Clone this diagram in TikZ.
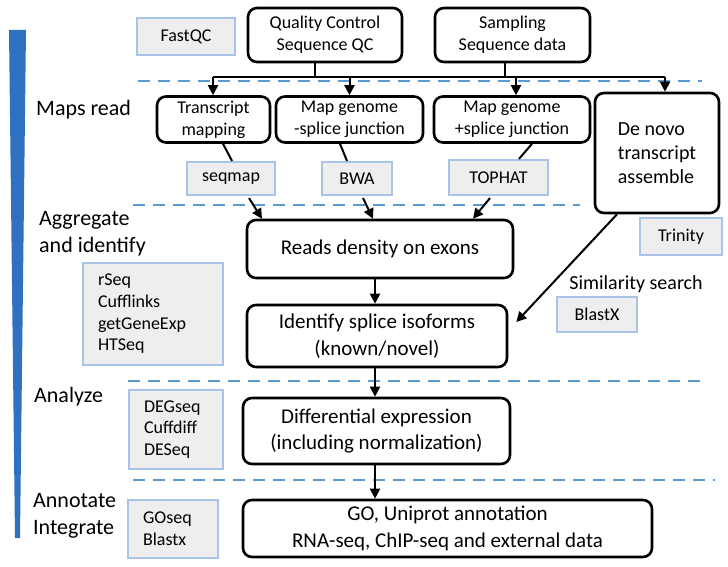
\documentclass[tikz,border=0pt]{standalone}
\usepackage{fontspec}
\setmainfont{Carlito}
\usetikzlibrary{arrows.meta,calc}
\definecolor{boxblue}{HTML}{A9C4E8}
\definecolor{toolfill}{HTML}{EEEEEE}
\definecolor{dashblue}{HTML}{5B9BD5}
\definecolor{barblue}{HTML}{3070C0}
\begin{document}
\begin{tikzpicture}[x=1pt,y=-1pt,
  stagebox/.style={draw=black, line width=2.6pt, rounded corners=9pt, fill=white, align=center, inner sep=0pt, font=\fontsize{18}{22}\selectfont},
  bigtext/.style={font=\fontsize{21}{26.5}\selectfont},
  toolbox/.style={draw=boxblue, line width=2.2pt, fill=toolfill, inner sep=0pt, font=\fontsize{18}{21.7}\selectfont},
  lbl/.style={font=\fontsize{22}{27}\selectfont, align=left, inner sep=0pt},
  sepline/.style={draw=dashblue, line width=2.4pt, dash pattern=on 12pt off 8pt},
  arr/.style={line width=2pt, -{Triangle[length=10pt,width=10pt]}},
  link/.style={line width=2pt}]
\useasboundingbox (0,0) rectangle (728,567);
\fill[white] (0,0) rectangle (728,567);

% tapered bar
\fill[barblue] (9,30) -- (26,30) -- (20,538) -- (15,538) -- cycle;

% dashed separators
\draw[sepline] (138,81) -- (702,81);
\draw[sepline] (133,205) -- (580,205);
\draw[sepline] (128,381) -- (702,381);
\draw[sepline] (133,480) -- (715,480);

% stage labels
\node[lbl, anchor=west] (maps) at (36,110) {Maps read};
\node[lbl, anchor=west] (aggr) at (39,233.5) {Aggregate\\and identify};
\node[lbl, anchor=west] (anal) at (34,397) {Analyze};
\node[lbl, anchor=west] (anno) at (33,515.5) {Annotate\\Integrate};

% top row
\node[stagebox, minimum width=154, minimum height=54] (qc) at (325,35) {Quality Control\\Sequence QC};
\node[stagebox, minimum width=155, minimum height=54] (samp) at (512.5,35) {Sampling\\Sequence data};
\node[toolbox, minimum width=98, minimum height=37] (fastqc) at (186,36.5) {FastQC};

% second row
\node[stagebox, minimum width=113, minimum height=46] (tm) at (213.5,119.5) {Transcript\\mapping};
\node[stagebox, minimum width=147, minimum height=46] (mgm) at (349.5,119.5) {Map genome\\-splice junction};
\node[stagebox, minimum width=156, minimum height=46] (mgp) at (512,119.5) {Map genome\\+splice junction};
\node[stagebox, minimum width=124, minimum height=120, align=left, font=\fontsize{20}{24}\selectfont] (denovo) at (657,153) {De novo\\transcript\\assemble};

\node[toolbox, minimum width=88, minimum height=33] (seqmap) at (231,178.5) {seqmap};
\node[toolbox, minimum width=70, minimum height=33] (bwa) at (357,178.5) {BWA};
\node[toolbox, minimum width=99, minimum height=35] (tophat) at (498.5,177.5) {TOPHAT};

% middle
\node[stagebox, bigtext, minimum width=266, minimum height=58] (reads) at (380,249) {Reads density on exons};
\node[stagebox, bigtext, minimum width=260, minimum height=62] (ident) at (377,336) {Identify splice isoforms\\(known/novel)};
\node[toolbox, minimum width=82, minimum height=37] (trinity) at (681,236.5) {Trinity};
\node[inner sep=0pt, font=\fontsize{20}{24}\selectfont] (sim) at (636,284) {Similarity search};
\node[toolbox, minimum width=80, minimum height=35] (blastx) at (597,314.5) {BlastX};
\node[toolbox, minimum height=102, text width=110, inner xsep=15pt, align=left] (rseq) at (153,314) {rSeq\\Cufflinks\\getGeneExp\\HTSeq};

\node[stagebox, bigtext, minimum width=267, minimum height=66] (diff) at (376.5,431) {Differential expression\\(including normalization)};
\node[toolbox, minimum height=79, text width=64, inner xsep=15pt, align=left] (degseq) at (176,429.5) {DEGseq\\Cuffdiff\\DESeq};

\node[stagebox, bigtext, minimum width=409, minimum height=57] (final) at (447.5,528.5) {GO, Uniprot annotation\\RNA-seq, ChIP-seq and external data};
\node[toolbox, minimum height=58, text width=60, inner xsep=15pt, align=left] (goseq) at (173,529) {GOseq\\Blastx};

% top connectors
\coordinate (hL) at (213,77);
\coordinate (hQ) at (315,77);
\coordinate (hS) at (505,77);
\coordinate (hR) at (665,77);
\draw[link] (qc.south -| hQ) -- (hQ);
\draw[link] (samp.south -| hS) -- (hS);
\draw[link] (hL) -- (hR);
\draw[arr] (hL) -- (tm.north -| hL);
\draw[arr] (mgm.north |- hL) -- (mgm.north);
\draw[arr] (516,77) -- (mgp.north -| 516,0);
\draw[arr] (hR) -- (denovo.north -| hR);

% box to tool links
\draw[link] ([xshift=9.5pt]tm.south) -- ([xshift=1pt]seqmap.north);
\draw[link] ([xshift=-9.5pt]mgm.south) -- ([xshift=-10pt]bwa.north);
\draw[link] ([xshift=20pt]mgp.south) -- ([xshift=20.5pt]tophat.north);

% tools to reads
\draw[arr] ([xshift=18pt,yshift=-2pt]seqmap.south) -- ([xshift=-118pt]reads.north);
\draw[arr] ([xshift=6pt,yshift=-2pt]bwa.south) -- ([xshift=-7pt]reads.north);
\draw[arr] ([xshift=-8.5pt,yshift=-2pt]tophat.south) -- ([xshift=93pt]reads.north);

% vertical flow
\draw[arr] ([xshift=-5pt]reads.south) -- ([xshift=-2pt]ident.north);
\draw[arr] ([xshift=-2pt]ident.south) -- ([xshift=-1.5pt]diff.north);
\draw[arr] ([xshift=-1.5pt]diff.south) -- (final.north -| 375,0);

% de novo to identify
\draw[arr] ([xshift=-40pt]denovo.south) -- ([xshift=8pt,yshift=14pt]ident.east);
\end{tikzpicture}
\end{document}
